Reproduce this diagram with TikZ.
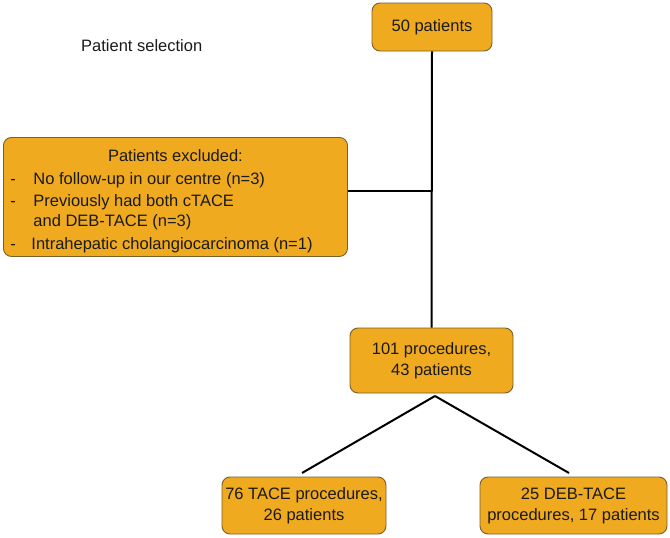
\documentclass[tikz,border=0pt]{standalone}
\usepackage{fontspec}
\setmainfont{Liberation Sans}
\definecolor{boxfill}{HTML}{F0AA20}
\definecolor{boxline}{HTML}{7A5E2C}
\definecolor{txt}{HTML}{1A1A1A}
\begin{document}
\begin{tikzpicture}[x=1pt,y=-1pt,
  box/.style={draw=boxline, fill=boxfill, line width=0.9pt, rounded corners=8pt, align=center, text=txt, inner sep=0pt, font=\fontsize{16.5}{21}\selectfont},
  conn/.style={line width=2pt, black}]
\useasboundingbox (0,0) rectangle (670,538);
\node[anchor=west, text=txt, inner sep=0pt, font=\fontsize{16.5}{20}\selectfont] (title) at (81,46) {Patient selection};
\node[box, minimum width=120, minimum height=48] (top) at (432,27) {50 patients};
\node[box, minimum width=344, minimum height=119, anchor=north west] (excl) at (3,137) {};
\node[text=txt, inner sep=0pt, font=\fontsize{16.5}{20}\selectfont] (excltext) at ([yshift=-4.5pt]excl.center)
  {\begin{tabular}{@{}p{23pt}@{}l@{}}
   \multicolumn{2}{@{}c@{}}{\makebox[330pt]{Patients excluded:}}\\[2.5pt]
   - & No follow-up in our centre (n=3)\\[2pt]
   - & Previously had both cTACE\\
     & and DEB-TACE (n=3)\\[3pt]
   - & \hspace{-2pt}Intrahepatic cholangiocarcinoma (n=1)
   \end{tabular}};
\node[box, minimum width=163, minimum height=65] (proc) at (431.5,360.5) {101 procedures,\\43 patients};
\node[box, minimum width=164, minimum height=57] (tace) at (304,505.5) {76 TACE procedures,\\26 patients};
\node[box, minimum width=187, minimum height=57] (deb) at (573.5,505.5) {25 DEB-TACE\\procedures, 17 patients};
\coordinate (ex) at ([yshift=6pt]excl.east);
\coordinate (j) at (top.south |- ex);
\coordinate (apex) at (435,396);
\coordinate (tl) at (302,473);
\coordinate (tr) at (569,473);
\draw[conn] (top.south) -- (proc.north);
\draw[conn, line width=1.6pt] (ex) -- (j);
\draw[conn] (apex) -- (tl);
\draw[conn] (apex) -- (tr);
\end{tikzpicture}
\end{document}
